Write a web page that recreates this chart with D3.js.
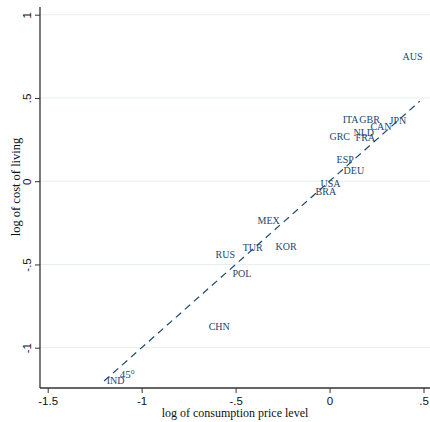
<!DOCTYPE html>
<html>
<head>
<meta charset="utf-8">
<script src="https://cdn.jsdelivr.net/npm/d3@7"></script>
<style>
  body { margin: 0; background: #fff; }
  svg { display: block; font-family: "Liberation Serif", "Times New Roman", serif; }
</style>
</head>
<body>
<svg id="chart" width="430" height="422"></svg>
<script>
// country labels and their values
const countries = ["AUS", "ITA", "GBR", "JPN", "CAN", "NLD", "FRA", "GRC", "ESP", "DEU",
                   "USA", "BRA", "MEX", "TUR", "KOR", "RUS", "POL", "CHN", "IND"];
const priceLevel = [0.378, 0.059, 0.148, 0.309, 0.207, 0.117, 0.128, -0.011, 0.027, 0.064,
                    -0.059, -0.085, -0.394, -0.473, -0.298, -0.617, -0.527, -0.654, -1.197];
const costLiving = [0.746, 0.371, 0.371, 0.362, 0.326, 0.29, 0.265, 0.271, 0.133, 0.067,
                    -0.011, -0.059, -0.239, -0.401, -0.395, -0.443, -0.557, -0.870, -1.194];
const xTicks = [-1.5, -1, -0.5, 0, 0.5];
const yTicks = [-1, -0.5, 0, 0.5, 1];
const diagLine = [-1.2, 0.48];      // 45 degree line, x = y
const diagNote = {x: -1.117, y: -1.158, label: "45", sup: "o"};

const color = "#1a476f";
const svg = d3.select("#chart");

// plot box (axes lines)
const boxL = 40, boxR = 430, boxT = 7, boxB = 388;

const x = d3.scaleLinear().domain([-1.5, 0.5]).range([47.7, 423.5]);
const y = d3.scaleLinear().domain([-1, 1]).range([347.7, 14.7]);

// stata style numbers: -.5, .5
const fmt = d => d === 0 ? "0" : String(d).replace("0.", ".");

// faint grid lines
svg.append("g")
    .selectAll("line")
    .data(yTicks)
    .enter()
    .append("line")
    .attr("x1", boxL).attr("x2", boxR)
    .attr("y1", d => y(d)).attr("y2", d => y(d))
    .attr("stroke", "#e6eeef")
    .attr("stroke-width", 1);

// x axis
let gx = svg.append("g")
    .attr("transform", `translate(0, ${boxB})`)
    .call(d3.axisBottom(x).tickValues(xTicks).tickFormat(fmt).tickSize(5).tickSizeOuter(0));
gx.select(".domain").remove();
gx.selectAll("line").attr("stroke", "#333");
gx.selectAll("text")
    .attr("font-size", "11.5px")
    .attr("fill", "#111")
    .attr("y", 9);

// y axis
let gy = svg.append("g")
    .attr("transform", `translate(${boxL}, 0)`)
    .call(d3.axisLeft(y).tickValues(yTicks).tickFormat(fmt).tickSize(5).tickSizeOuter(0));
gy.select(".domain").remove();
gy.selectAll("line").attr("stroke", "#333");
gy.selectAll("text")
    .attr("font-size", "11.5px")
    .attr("fill", "#111")
    .attr("x", null).attr("dy", null)
    .attr("text-anchor", "middle")
    .attr("transform", "translate(-9, 0) rotate(-90)");

// axis lines
svg.append("line")
    .attr("x1", boxL).attr("x2", boxR).attr("y1", boxB).attr("y2", boxB)
    .attr("stroke", "#333").attr("stroke-width", 1.3);
svg.append("line")
    .attr("x1", boxL).attr("x2", boxL).attr("y1", boxT).attr("y2", boxB)
    .attr("stroke", "#333").attr("stroke-width", 1.3);

// axis titles
svg.append("text")
    .attr("x", (boxL + boxR) / 2)
    .attr("y", 417)
    .attr("text-anchor", "middle")
    .attr("font-size", "12px")
    .attr("fill", "#111")
    .text("log of consumption price level");

svg.append("text")
    .attr("transform", "translate(20, 187) rotate(-90)")
    .attr("text-anchor", "middle")
    .attr("font-size", "12.5px")
    .attr("fill", "#111")
    .text("log of cost of living");

// 45 degree dashed line
svg.append("path")
    .datum(diagLine)
    .attr("d", d3.line().x(d => x(d)).y(d => y(d)))
    .attr("fill", "none")
    .attr("stroke", color)
    .attr("stroke-width", 1.2)
    .attr("stroke-dasharray", "7,5");

let note = svg.append("text")
    .attr("x", x(diagNote.x))
    .attr("y", y(diagNote.y))
    .attr("dy", "0.35em")
    .attr("font-size", "11px")
    .attr("fill", color)
    .text(diagNote.label);
note.append("tspan")
    .attr("font-size", "7.5px")
    .attr("dy", "-0.5em")
    .text(diagNote.sup);

// country labels (no markers, label to the right)
svg.append("g")
    .selectAll("text")
    .data(countries)
    .enter()
    .append("text")
    .attr("x", (d, i) => x(priceLevel[i]) + 2)
    .attr("y", (d, i) => y(costLiving[i]))
    .attr("dy", "0.35em")
    .attr("font-size", "10px")
    .attr("fill", color)
    .text(d => d);
</script>
</body>
</html>
